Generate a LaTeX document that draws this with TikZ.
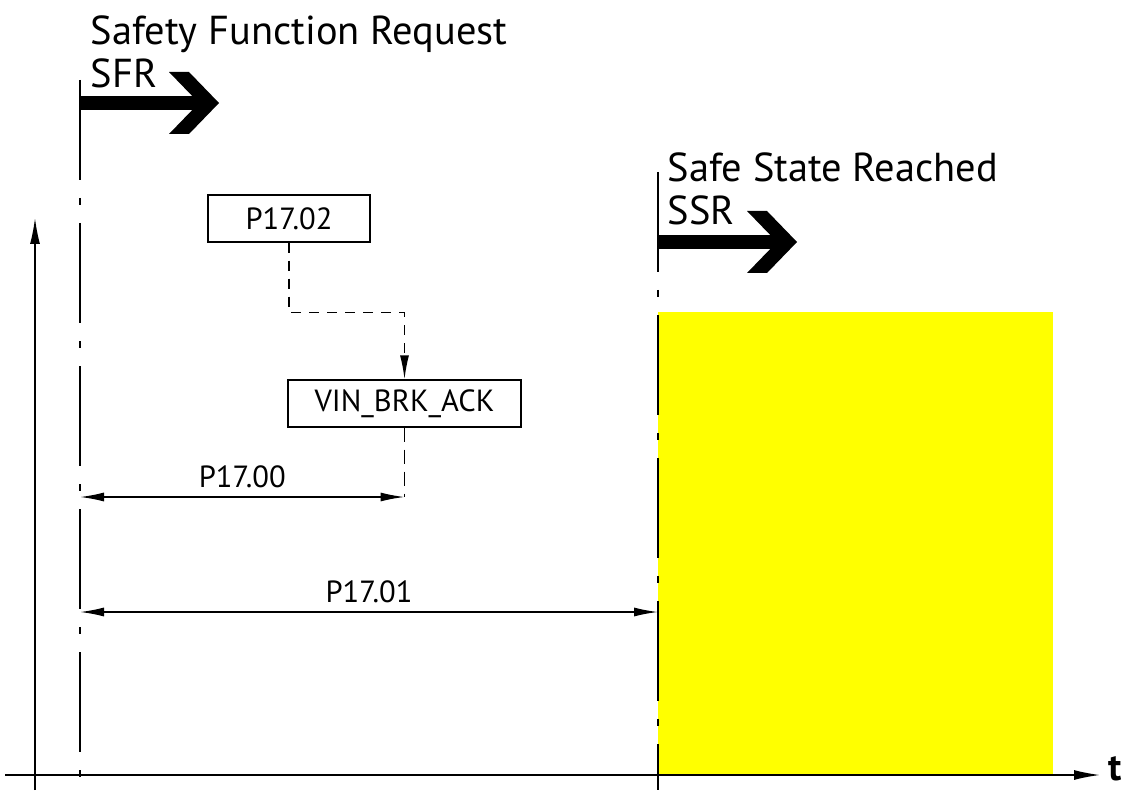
\documentclass[tikz,border=0pt]{standalone}
\usepackage{fontspec}
\setmainfont{PT Sans}
\usepackage{tikz}
\usetikzlibrary{arrows.meta,positioning}
\definecolor{ssryellow}{HTML}{FFFF00}

\begin{document}
\begin{tikzpicture}[x=0.5pt,y=-0.5pt,line width=0.75pt,
 title/.style={anchor=base west,inner sep=0pt,font=\fontsize{20.2}{24}\selectfont},
 param/.style={draw,line width=0.7pt,minimum height=23.5pt,inner sep=0pt,font=\fontsize{15.3}{18}\selectfont},
 centerline/.style={dash pattern=on 50pt off 9pt on 3.5pt off 9pt},
 shortcenter/.style={dash pattern=on 7pt off 4pt},
 signal/.style={dash pattern=on 5pt off 4pt,-{Latex[length=12pt,width=4.5pt]}},
 dimline/.style={{Latex[length=12pt,width=4.5pt]}-{Latex[length=12pt,width=4.5pt]}},
 axis/.style={-{Latex[length=13pt,width=5pt]}},
 fatarrow/.pic={\fill (0,-7) rectangle (125,7);
  \fill (89,-31) -- (109,-31) -- (139,0) -- (109,31) -- (89,31) -- (119,0) -- cycle;}]
\useasboundingbox (0,0) rectangle (1124,791);
\fill[ssryellow] (658,312) rectangle (1053,775);
% axes
\coordinate (xstart) at (5,775);\coordinate (xend) at (1100,775);
\coordinate (ystart) at (35,790);\coordinate (yend) at (35,218);
\draw[axis] (xstart) -- (xend);
\draw[axis] (ystart) -- (yend);
\node[anchor=base west,inner sep=0pt,font=\fontsize{19}{24}\selectfont\bfseries] (tlabel) at (1108,780) {t};
% safety function request
\node[title] (sfrtext) at (90,45) {Safety Function Request};
\node[title] (sfrshort) at (90,88) {SFR};
\coordinate (sfrtop) at (80,80);\coordinate (sfrbot) at (80,790);
\draw[centerline] (sfrtop) -- (sfrbot);
\pic at (80,103) {fatarrow};
% safe state reached
\node[title] (ssrtext) at (667,182) {Safe State Reached};
\node[title] (ssrshort) at (667,225) {SSR};
\coordinate (ssrtop) at (658,172);\coordinate (ssrbot) at (658,790);
\draw[centerline] (ssrtop) -- (ssrbot);
\pic at (658,242) {fatarrow};
% parameters
\node[param,minimum width=81pt] (p1702) at (289,218.5) {P17.02};
\node[param,minimum width=116.5pt] (vin) at (404.5,403.5) {VIN\_BRK\_ACK};
\draw[signal] (p1702.south) -- ++(0,70) -| (vin.north);
\coordinate (dimA) at (80,497);\coordinate (dimC) at (80,612);\coordinate (dimD) at (658,612);
\draw[shortcenter] (vin.south) -- (vin.south |- dimA) coordinate (dimB);
\draw[dimline] (dimA) -- node[above=1pt,font=\fontsize{15.3}{18}\selectfont] (p1700) {P17.00} (dimB);
\draw[dimline] (dimC) -- node[above=1pt,font=\fontsize{15.3}{18}\selectfont] (p1701) {P17.01} (dimD);
\end{tikzpicture}
\end{document}
